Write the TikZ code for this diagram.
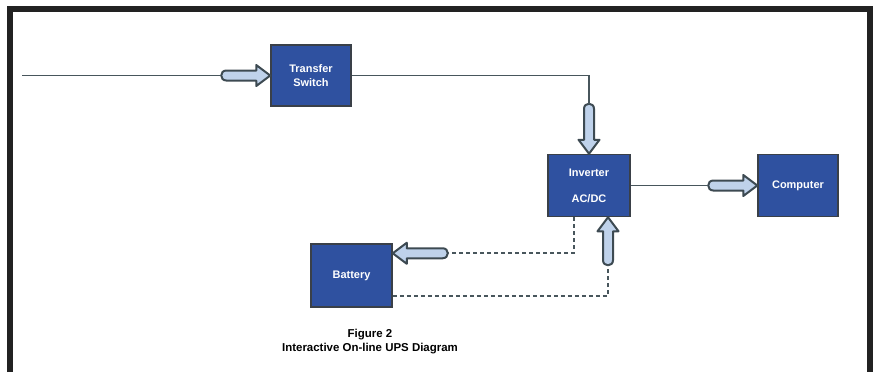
\documentclass[tikz,border=0pt]{standalone}
\usepackage{fontspec}
\setmainfont{Liberation Sans}
\usetikzlibrary{calc}
\definecolor{boxblue}{HTML}{2F51A0}
\definecolor{boxedge}{HTML}{3A4048}
\definecolor{pipefill}{HTML}{BFD2EB}
\definecolor{pipeedge}{HTML}{3D4A52}
\definecolor{wire}{HTML}{48565C}
\definecolor{framegray}{HTML}{222222}
\tikzset{
  font=\bfseries\fontsize{11}{13}\selectfont,  % bold sans everywhere
  unit/.style   = {rectangle, draw=boxedge, fill=boxblue, text=white,
                   line width=1.5bp, minimum width=80bp, minimum height=61bp,
                   inner sep=0pt, align=center},
  feed/.style   = {draw=wire, line width=1.8bp},
  backup/.style = {draw=wire, line width=2.2bp, dash pattern=on 4bp off 3bp},
  % block arrow, tip at the origin, pointing along +x, #1 = length
  fatarrow/.pic = {
    \filldraw[draw=pipeedge, fill=pipefill, line width=2bp, line join=round]
      (-#1+5,-5) -- (-14,-5) -- (-14,-10.5) -- (0,0) -- (-14,10.5) -- (-14,5)
      -- (-#1+5,5) .. controls (-#1-1.67,5) and (-#1-1.67,-5) .. (-#1+5,-5) -- cycle;
    \coordinate (-tail) at (-#1,0);
  }
}

\begin{document}
\begin{tikzpicture}[x=1bp, y=-1bp]
  \useasboundingbox (0,0) rectangle (875,372);
  \draw[line width=6bp, framegray, line join=miter] (10,372) -- (10,9) -- (870,9) -- (870,372);

  % blocks
  \node[unit] (ts) at (311,75.5) {Transfer\\[1bp]Switch};
  \node[unit, minimum width=82bp, minimum height=62bp] (inv) at (589,185.5) {Inverter\\[13bp]AC/DC};
  \node[unit, minimum height=62bp] (comp) at (798,185.5) {Computer};
  \node[unit, minimum width=81bp, minimum height=63bp] (bat) at (351.5,275.5) {Battery};
  \node[font=\bfseries\fontsize{11.5}{14}\selectfont, align=center] (caption) at (370,342)
    {Figure 2\\Interactive On-line UPS Diagram};

  % block arrows
  \pic (pIn) at (ts.west) {fatarrow=49};
  \pic[rotate=-90] (pInv) at (inv.north) {fatarrow=50};
  \pic (pComp) at (comp.west) {fatarrow=49};
  \pic[rotate=180] (pBat) at ([yshift=-10bp]bat.north east) {fatarrow=55};
  \pic[rotate=90] (pUp) at ([xshift=19bp]inv.south) {fatarrow=48};

  % wiring
  \coordinate (mains) at (22,75.5);
  \draw[feed] (mains) -- (pIn-tail);
  \draw[feed] (ts.east) -| (pInv-tail);
  \draw[feed] (inv.east) -- (pComp-tail);
  \draw[backup] ([xshift=-15bp]inv.south) |- (pBat-tail);
  \draw[backup] ([yshift=12bp]bat.south east) -| (pUp-tail);
\end{tikzpicture}
\end{document}
